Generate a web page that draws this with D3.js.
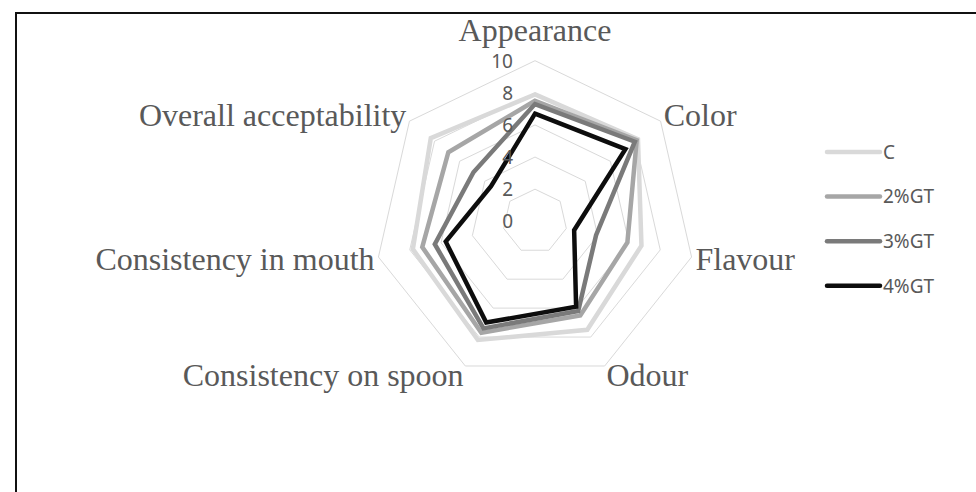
<!DOCTYPE html>
<html lang="en">
  <head>
    <meta charset="UTF-8" />
    <title>Radar chart</title>
    <style>
      body {
        margin: 0;
        background: #fff;
      }
    </style>
  </head>
  <body>
    <script src="https://d3js.org/d3.v7.min.js"></script>
    <script>
      // attributes, clockwise from the top
      const categories = [
        "Appearance",
        "Color",
        "Flavour",
        "Odour",
        "Consistency on spoon",
        "Consistency in mouth",
        "Overall acceptability",
      ];
      const seriesNames = ["C", "2%GT", "3%GT", "4%GT"];
      const valuesC = [7.9, 8.2, 6.8, 7.5, 8.2, 7.8, 8.3];
      const values2GT = [7.5, 8.1, 5.9, 6.5, 7.7, 7.2, 6.9];
      const values3GT = [7.3, 7.95, 3.9, 6.2, 7.4, 6.4, 4.9];
      const values4GT = [6.7, 7.2, 2.5, 5.9, 7.0, 5.7, 3.5];
      const tickValues = [0, 2, 4, 6, 8, 10];

      const seriesList = [valuesC, values2GT, values3GT, values4GT];
      const colors = ["#d9d9d9", "#a6a6a6", "#7a7a7a", "#0d0d0d"];

      const width = 976,
        height = 492;
      const cx = 535,
        cy = 221.3,
        radius = 160.6;

      const svg = d3
        .select("body")
        .append("svg")
        .attr("width", width)
        .attr("height", height);

      // frame
      svg
        .append("rect")
        .attr("x", 16)
        .attr("y", 13)
        .attr("width", width)
        .attr("height", height)
        .attr("fill", "none")
        .attr("stroke", "#111")
        .attr("stroke-width", 2);

      const r = d3.scaleLinear().domain([0, 10]).range([0, radius]);
      const angle = d3
        .scaleLinear()
        .domain([0, categories.length])
        .range([0, 2 * Math.PI]);

      const g = svg.append("g").attr("transform", `translate(${cx}, ${cy})`);

      const radial = d3
        .lineRadial()
        .angle((d, i) => angle(i))
        .radius((d) => r(d))
        .curve(d3.curveLinearClosed);

      // grid rings
      tickValues
        .filter((t) => t > 0)
        .forEach((t) => {
          g.append("path")
            .attr("d", radial(categories.map(() => t)))
            .attr("fill", "none")
            .attr("stroke", "#d9d9d9")
            .attr("stroke-width", 1);
        });

      // series
      seriesList.forEach((values, index) => {
        g.append("path")
          .attr("d", radial(values))
          .attr("fill", "none")
          .attr("stroke", colors[index])
          .attr("stroke-width", 4.5)
          .attr("stroke-linejoin", "miter");
      });

      // tick labels on the first axis
      tickValues.forEach((t) => {
        g.append("text")
          .attr("x", -22)
          .attr("y", -r(t))
          .attr("dy", "0.36em")
          .attr("text-anchor", "end")
          .attr("font-family", "Noto Sans, sans-serif")
          .attr("font-size", 19)
          .attr("fill", "#595959")
          .text(t);
      });

      // category labels
      categories.forEach((name, i) => {
        const a = angle(i);
        const sx = Math.sin(a),
          cyy = -Math.cos(a);
        const x = r(10) * sx + sx * 4;
        let y = r(10) * cyy + cyy * 10;
        let anchor = "middle";
        if (sx > 0.1) anchor = "start";
        if (sx < -0.1) anchor = "end";
        const label = g
          .append("text")
          .attr("x", x)
          .attr("text-anchor", anchor)
          .attr("font-family", "Liberation Serif, serif")
          .attr("font-size", 32)
          .attr("fill", "#595959")
          .text(name);
        if (i === 0) {
          label.attr("y", -r(10) - 20);
        } else {
          label.attr("y", y).attr("dy", "0.33em");
        }
      });

      // legend
      const legend = svg.append("g").attr("transform", "translate(827, 152)");
      seriesNames.forEach((name, index) => {
        const row = legend
          .append("g")
          .attr("transform", `translate(0, ${index * 44.6})`);
        row
          .append("line")
          .attr("x1", 0)
          .attr("x2", 53)
          .attr("stroke", colors[index])
          .attr("stroke-width", 4.5)
          .attr("stroke-linecap", "round");
        row
          .append("text")
          .attr("x", 56)
          .attr("dy", "0.36em")
          .attr("font-family", "Noto Sans, sans-serif")
          .attr("font-size", 19)
          .attr("fill", "#595959")
          .text(name);
      });
    </script>
  </body>
</html>
